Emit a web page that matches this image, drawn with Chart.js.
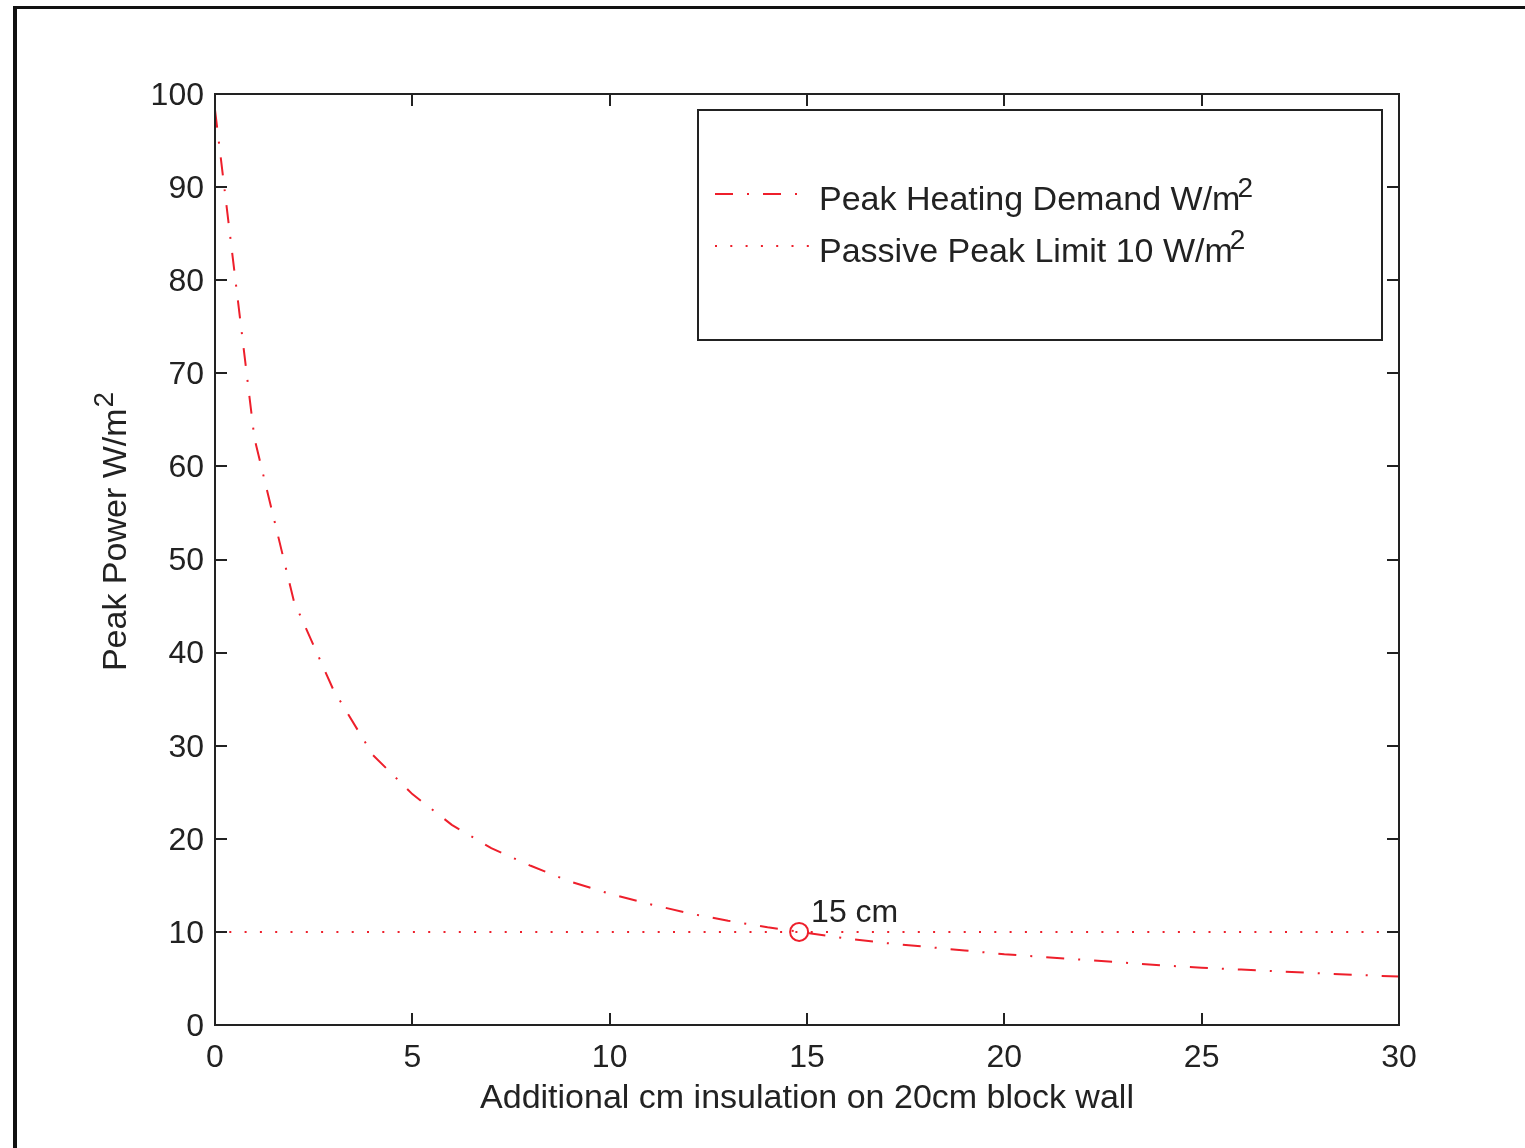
<!DOCTYPE html>
<html>
<head>
<meta charset="utf-8">
<title>Peak Power vs additional insulation</title>
<script src="https://cdn.jsdelivr.net/npm/chart.js@4.4.1/dist/chart.umd.min.js"></script>
<style>
  html, body { margin:0; padding:0; background:#fff; overflow:hidden; }
  #wrap  { position:relative; width:1525px; height:1148px; }
  #frame { position:absolute; left:13px; top:6px; width:1700px; height:1300px;
           border-left:4px solid #111; border-top:3px solid #111; box-sizing:border-box; }
  canvas { position:absolute; left:0; top:0; }
</style>
</head>
<body>
<div id="wrap">
  <div id="frame"></div>
  <canvas id="peakChart" width="1525" height="1148"></canvas>
</div>
<script>
// ════════════════════════════════════════════════════════════════
// Peak heating demand against added insulation (20cm block wall)
// ════════════════════════════════════════════════════════════════

// ── Data ─────────────────────────────────────────────────────
const insulationCm = [0,1,2,3,4,5,6,7,8,9,10,11,12,13,14,15,16,17,18,19,20,21,22,23,24,25,26,27,28,29,30];
const peakDemand   = [98.3,63.0,45.5,36.0,29.0,24.8,21.5,19.0,17.1,15.4,14.1,13.0,12.0,11.2,10.5,9.9,
                      9.3,8.8,8.4,8.0,7.6,7.3,7.0,6.7,6.4,6.15,5.95,5.75,5.55,5.37,5.2];
const limitX       = [0, 30];
const limitY       = [10, 10];
const crossX       = [14.8];
const crossY       = [10];
const xTicks       = [0,5,10,15,20,25,30];
const yTicks       = [0,10,20,30,40,50,60,70,80,90,100];
const legendText   = ['Peak Heating Demand W/m', 'Passive Peak Limit 10 W/m'];
const xTitle       = 'Additional cm insulation on 20cm block wall';
const yTitle       = 'Peak Power W/m';
const crossLabel   = '15 cm';

const RED   = '#ee1f2b';
const AXIS  = '#222222';
const FONT  = '"Liberation Sans", Arial, Helvetica, sans-serif';
const DASHDOT = [18, 14, 2, 14];
const DOTTED  = [2, 13.3];

// ── Box, inward ticks, titles, legend, annotation ───────────
const overlay = {
  id: 'overlay',
  afterDraw(chart) {
    const { ctx, chartArea: a, scales: { x, y } } = chart;
    ctx.save();

    // axes box + ticks on all four sides
    ctx.strokeStyle = AXIS; ctx.lineWidth = 2; ctx.setLineDash([]);
    ctx.strokeRect(a.left, a.top, a.right - a.left, a.bottom - a.top);
    ctx.beginPath();
    xTicks.forEach(v => {
      const px = Math.round(x.getPixelForValue(v));
      ctx.moveTo(px, a.bottom); ctx.lineTo(px, a.bottom - 12);
      ctx.moveTo(px, a.top);    ctx.lineTo(px, a.top + 12);
    });
    yTicks.forEach(v => {
      const py = Math.round(y.getPixelForValue(v));
      ctx.moveTo(a.left, py);  ctx.lineTo(a.left + 12, py);
      ctx.moveTo(a.right, py); ctx.lineTo(a.right - 12, py);
    });
    ctx.stroke();

    ctx.fillStyle = AXIS;
    const sup = (sx, sy) => {
      ctx.font = '28px ' + FONT;
      ctx.fillText('2', sx, sy);
    };

    // x title
    ctx.font = '34px ' + FONT;
    ctx.textAlign = 'center'; ctx.textBaseline = 'alphabetic';
    ctx.fillText(xTitle, (a.left + a.right) / 2, 1108);

    // y title (rotated, with superscript)
    ctx.save();
    ctx.translate(126, 532);
    ctx.rotate(-Math.PI / 2);
    ctx.font = '34px ' + FONT;
    const w  = ctx.measureText(yTitle).width;
    ctx.font = '28px ' + FONT;
    const ws = ctx.measureText('2').width;
    ctx.textAlign = 'left';
    ctx.font = '34px ' + FONT;
    ctx.fillText(yTitle, -(w + ws) / 2, 0);
    sup(-(w + ws) / 2 + w + 1, -13);
    ctx.restore();

    // legend
    const L = { left: 698, top: 110, right: 1382, bottom: 340 };
    ctx.fillStyle = '#fff';
    ctx.fillRect(L.left, L.top, L.right - L.left, L.bottom - L.top);
    ctx.strokeStyle = AXIS; ctx.lineWidth = 2;
    ctx.strokeRect(L.left, L.top, L.right - L.left, L.bottom - L.top);

    const rows = [{ y: 194, base: 210, dash: DASHDOT }, { y: 246, base: 262, dash: DOTTED }];
    rows.forEach((r, i) => {
      ctx.strokeStyle = RED; ctx.lineWidth = 2;
      ctx.setLineDash(r.dash);
      ctx.beginPath(); ctx.moveTo(715, r.y); ctx.lineTo(810, r.y); ctx.stroke();
      ctx.setLineDash([]);
      ctx.fillStyle = AXIS; ctx.textAlign = 'left';
      ctx.font = '34px ' + FONT;
      ctx.fillText(legendText[i], 819, r.base);
      const tw = ctx.measureText(legendText[i]).width;
      sup(819 + tw - 3, r.base - 13);
    });

    // annotation at the crossing
    ctx.font = '32px ' + FONT;
    ctx.fillStyle = AXIS; ctx.textAlign = 'left';
    ctx.fillText(crossLabel, x.getPixelForValue(crossX[0]) + 12, y.getPixelForValue(crossY[0]) - 10);

    ctx.restore();
  }
};

// ── Chart ─────────────────────────────────────────────────────
const ctx = document.getElementById('peakChart');
new Chart(ctx, {
  type: 'line',
  data: {
    datasets: [
      { label: 'Peak Heating Demand',
        data: insulationCm.map((v, i) => ({ x: v, y: peakDemand[i] })),
        borderColor: RED, borderWidth: 2, borderDash: DASHDOT, pointRadius: 0, tension: 0, fill: false },
      { label: 'Passive Peak Limit',
        data: limitX.map((v, i) => ({ x: v, y: limitY[i] })),
        borderColor: RED, borderWidth: 2, borderDash: DOTTED, borderDashOffset: 1, pointRadius: 0, fill: false },
      { label: 'Crossing',
        data: crossX.map((v, i) => ({ x: v, y: crossY[i] })),
        showLine: false, pointStyle: 'circle', pointRadius: 9, pointBorderWidth: 2,
        pointBorderColor: RED, pointBackgroundColor: 'rgba(0,0,0,0)' }
    ]
  },
  options: {
    responsive: false, animation: false,
    layout: { padding: { left: 0, top: 94, right: 126, bottom: 0 } },
    plugins: { legend: { display: false }, tooltip: { enabled: false } },
    scales: {
      x: {
        type: 'linear', min: 0, max: 30,
        afterBuildTicks: s => { s.ticks = xTicks.map(v => ({ value: v })); },
        afterFit: s => { s.height = 123; },
        grid: { display: false, drawTicks: false }, border: { display: false },
        ticks: { color: AXIS, font: { size: 32, family: FONT }, padding: 14, maxRotation: 0 }
      },
      y: {
        type: 'linear', min: 0, max: 100,
        afterBuildTicks: s => { s.ticks = yTicks.map(v => ({ value: v })); },
        afterFit: s => { s.width = 215; },
        grid: { display: false, drawTicks: false }, border: { display: false },
        ticks: { color: AXIS, font: { size: 32, family: FONT }, padding: 11, labelOffset: 2 }
      }
    }
  },
  plugins: [overlay]
});
</script>
</body>
</html>
